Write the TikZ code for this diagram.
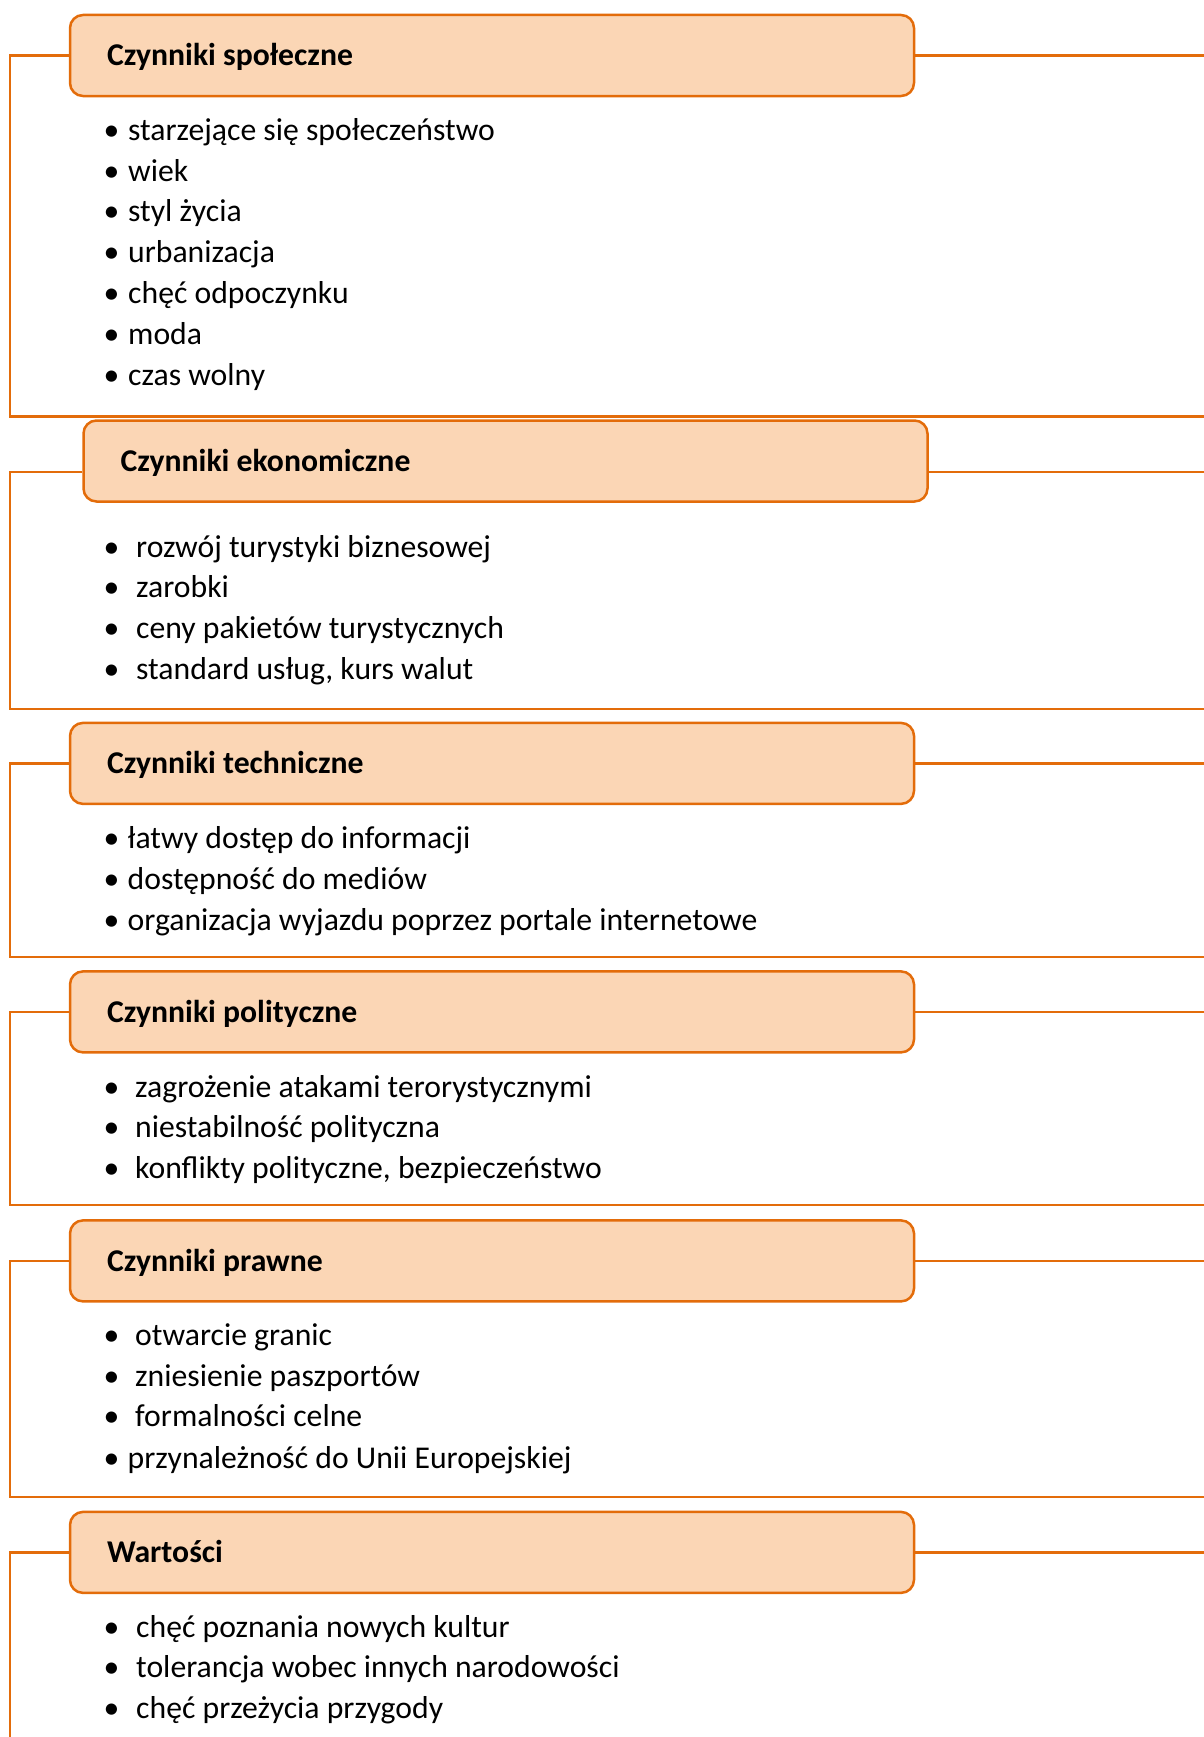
\documentclass[tikz,border=0pt]{standalone}
\usepackage{fontspec}
\setmainfont{Carlito}
\definecolor{frameorange}{HTML}{E36C0A}
\definecolor{headfill}{HTML}{FBD6B5}

% left-aligned header line of fixed width
\newcommand\htext[1]{\makebox[770pt][l]{#1}}

% bullet list: #1 name prefix, #2 text x, #3 first baseline, #4 items
\newcommand\bulletlist[4]{%
  \foreach \t [count=\k] in {#4} {
    \node[dot] (#1d\k) at (111.5, {#3+(\k-1)*40.8}) {•};
    \node[item] (#1t\k) at (#2, {#3+(\k-1)*40.8}) {\t};
  }}

\begin{document}
\begin{tikzpicture}[x=1pt, y=-1pt,
  frame/.style={draw=frameorange, line width=2.5pt},
  headbox/.style={draw=frameorange, fill=headfill, line width=2.5pt,
    rounded corners=13pt, inner xsep=37pt, inner ysep=25pt,
    text height=26pt, text depth=5pt,
    font=\fontsize{31.7}{38}\selectfont\bfseries},
  item/.style={anchor=base west, inner sep=0pt, font=\fontsize{31.7}{38}\selectfont},
  dot/.style={anchor=base, inner sep=0pt, font=\fontsize{31.7}{38}\selectfont}]

\useasboundingbox (0,0) rectangle (1203,1737);

% header boxes
\node[headbox] (h1) at (492, 55.5)   {\htext{Czynniki społeczne}};
\node[headbox] (h2) at (505.5, 461)  {\htext{Czynniki ekonomiczne}};
\node[headbox] (h3) at (492, 763.4)  {\htext{Czynniki techniczne}};
\node[headbox] (h4) at (492, 1011.9) {\htext{Czynniki polityczne}};
\node[headbox] (h5) at (492, 1260.9) {\htext{Czynniki prawne}};
\node[headbox] (h6) at (492, 1552.4) {\htext{Wartości}};

% bracket frames
\coordinate (r1) at (1206, 55.5);   \coordinate (b1) at (10, 416.7);  \coordinate (e1) at (1206, 416.7);
\coordinate (r2) at (1206, 472);    \coordinate (b2) at (10, 708.8);  \coordinate (e2) at (1206, 708.8);
\coordinate (r3) at (1206, 763.4);  \coordinate (b3) at (10, 956.8);  \coordinate (e3) at (1206, 956.8);
\coordinate (r4) at (1206, 1011.9); \coordinate (b4) at (10, 1205.2); \coordinate (e4) at (1206, 1205.2);
\coordinate (r5) at (1206, 1260.9); \coordinate (b5) at (10, 1497.2); \coordinate (e5) at (1206, 1497.2);
\coordinate (r6) at (1206, 1552.4); \coordinate (b6) at (10, 1745);

\foreach \s in {1,...,5} {
  \draw[frame] (r\s) -- (r\s -| h\s.east);
  \draw[frame] (r\s -| h\s.west) -| (b\s) -- (e\s);
}
\draw[frame] (r6) -- (r6 -| h6.east);
\draw[frame] (r6 -| h6.west) -| (b6);

% lists
\bulletlist{a}{128}{140.3}{starzejące się społeczeństwo, wiek, styl życia, urbanizacja, chęć odpoczynku, moda, czas wolny}
\bulletlist{b}{136}{557}{rozwój turystyki biznesowej, zarobki, ceny pakietów turystycznych, {standard usług, kurs walut}}
\bulletlist{c}{127.5}{848.5}{łatwy dostęp do informacji, dostępność do mediów, organizacja wyjazdu poprzez portale internetowe}
\bulletlist{d}{135}{1097}{zagrożenie atakami terorystycznymi, niestabilność polityczna, {konflikty polityczne, bezpieczeństwo}}
\bulletlist{e}{135}{1345.3}{otwarcie granic, zniesienie paszportów, formalności celne}
\bulletlist{f}{127.5}{1468.7}{przynależność do Unii Europejskiej}
\bulletlist{g}{136}{1637}{chęć poznania nowych kultur, tolerancja wobec innych narodowości, chęć przeżycia przygody}
\end{tikzpicture}
\end{document}
